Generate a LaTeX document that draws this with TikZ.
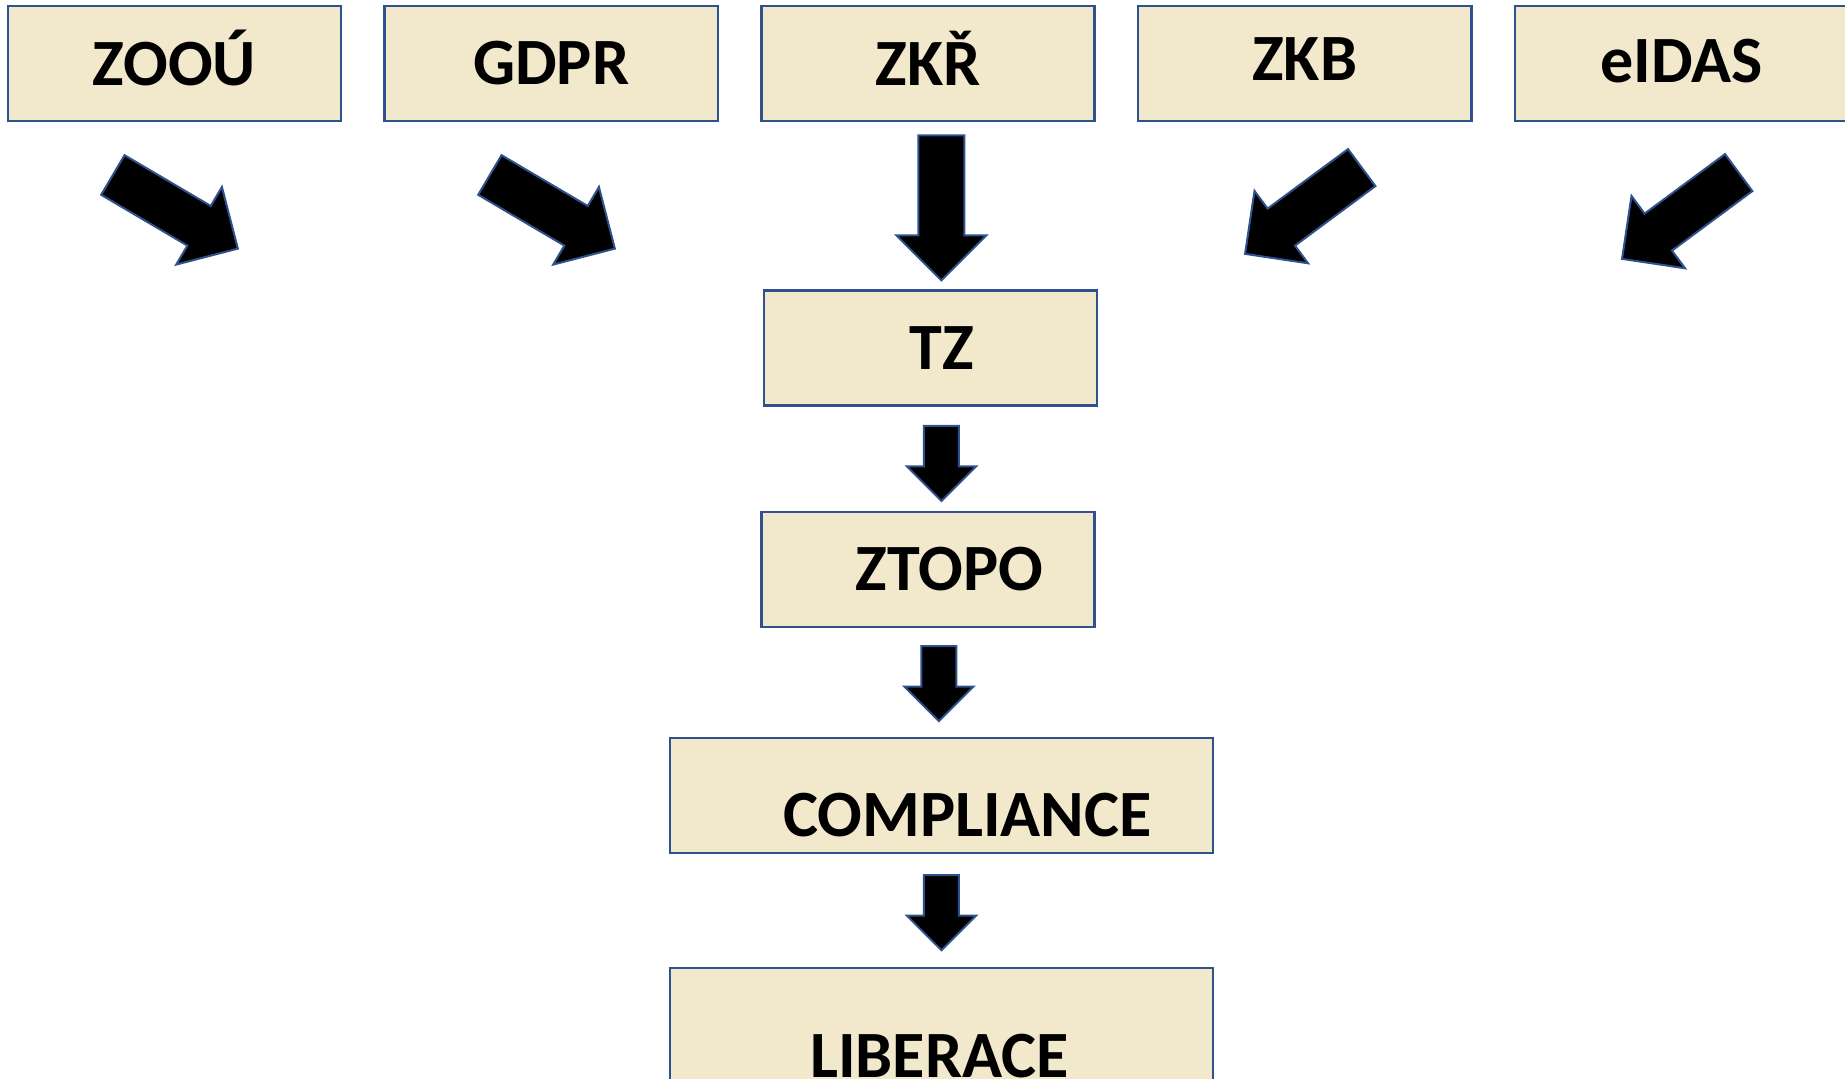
\documentclass[tikz,border=0pt]{standalone}
\usepackage{fontspec}
\setmainfont{Carlito}
\usetikzlibrary{positioning,shapes.arrows}
\definecolor{boxfill}{RGB}{242,233,204}
\definecolor{boxline}{RGB}{47,82,143}
\tikzset{
  box/.style={rectangle, draw=boxline, fill=boxfill, line width=0.025cm, inner sep=0pt, minimum width=3.33cm, minimum height=1.15cm},
  widebox/.style={box, minimum width=5.425cm},
  txt/.style={font=\bfseries\fontsize{18.8pt}{22pt}\selectfont, inner sep=0pt, text height=0.42cm, text depth=0pt},
  bigarrow/.style={single arrow, draw=boxline, fill=black, line width=0.02cm, inner sep=0.22cm, single arrow head extend=0.22cm, single arrow tip angle=90, minimum height=1.45cm, anchor=tail},
  smallarrow/.style={bigarrow, inner sep=0.165cm, single arrow head extend=0.17cm, minimum height=0.75cm, rotate=-90}
}

\begin{document}
\begin{tikzpicture}[x=0.01cm, y=-0.01cm]
\clip (0,0) rectangle (1845,1079);

% laws on top
\node (zoou) [box] at (174.5,63.5) {};
\node (gdpr) [box, right=0.41cm of zoou] {};
\node (zkr) [box, right=0.41cm of gdpr] {};
\node (zkb) [box, right=0.41cm of zkr] {};
\node (eidas) [box, right=0.41cm of zkb] {};

% the chain below
\node (tz) [box, below=1.67cm of zkr, xshift=0.025cm] {};
\node (ztopo) [box, below=1.035cm of tz, xshift=-0.025cm] {};
\node (compl) [widebox, below=1.085cm of ztopo, xshift=0.135cm] {};
\node (liber) [widebox, below=1.125cm of compl] {};

% labels
\node (zooutxt) [txt] at ([shift={(0,0.5)}]zoou.center) {ZOOÚ};
\node (gdprtxt) [txt] at (gdpr.center) {GDPR};
\node (zkrtxt) [txt] at ([shift={(0,0.5)}]zkr.center) {ZKŘ};
\node (zkbtxt) [txt] at ([shift={(0,-4)}]zkb.center) {ZKB};
\node (eidastxt) [txt] at ([shift={(0,-2)}]eidas.center) {eIDAS};
\node (tztxt) [txt] at ([shift={(11,0.5)}]tz.center) {TZ};
\node (ztopotxt) [txt] at ([shift={(21.5,0)}]ztopo.center) {ZTOPO};
\node (compltxt) [txt] at ([shift={(26,20)}]compl.center) {COMPLIANCE};
\node (libertxt) [txt] at ([shift={(-2,30.5)}]liber.center) {LIBERACE};

% block arrows
\node (arr1) [bigarrow, rotate=-30.5] at (112,174.5) {};
\node (arr2) [bigarrow, rotate=-30.5] at (489,174.5) {};
\node (arr3) [bigarrow, rotate=-90] at ([shift={(13.5,12)}]zkr.south) {};
\node (arr4) [bigarrow, rotate=-143.5] at (1362.5,167) {};
\node (arr5) [bigarrow, rotate=-143.5] at (1739.5,172) {};
\node (arr6) [smallarrow] at ([shift={(11,18)}]tz.south) {};
\node (arr7) [smallarrow] at ([shift={(11,17)}]ztopo.south) {};
\node (arr8) [smallarrow] at ([shift={(0,20)}]compl.south) {};
\end{tikzpicture}
\end{document}
